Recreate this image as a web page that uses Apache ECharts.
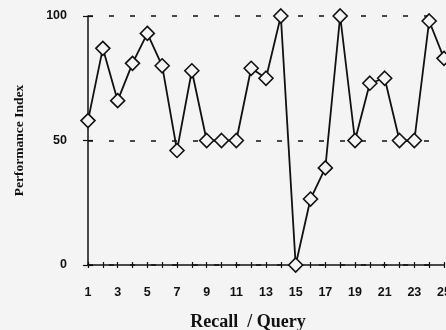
<!DOCTYPE html>
<html><head><meta charset="utf-8">
<script src="https://cdn.jsdelivr.net/npm/echarts@6/dist/echarts.min.js"></script>
<style>html,body{margin:0;padding:0;background:#f4f4f4}#c{width:446px;height:330px}</style>
</head><body><div id="c"></div>
<script>
const queries = [1,2,3,4,5,6,7,8,9,10,11,12,13,14,15,16,17,18,19,20,21,22,23,24,25];
const performance = [58,87,66,81,93,80,46,78,50,50,50,79,75,100,0,26.5,39,100,50,73,75,50,50,98,83];
const yTicks = [0,50,100];
const xLabel = 'Recall  / Query';
const yLabel = 'Performance Index';

const data = queries.map((q,i)=>[q, performance[i]]);
const chart = echarts.init(document.getElementById('c'), null, {renderer:'canvas'});
const tickFont = {fontFamily:'Liberation Sans, Arial', fontWeight:'bold', fontSize:12.5, color:'#111'};
chart.setOption({
  backgroundColor:'#f4f4f4',
  animation:false,
  grid:{left:88, top:16, right:2, bottom:65, outerBoundsMode:'none', containLabel:false},
  xAxis:[{
    type:'value', min:1, max:25, interval:1,
    axisLine:{lineStyle:{color:'#111', width:1.5}},
    axisTick:{show:true, length:3, lineStyle:{color:'#111', width:1.2}},
    axisLabel:Object.assign({margin:21, formatter:v=> (v%2===1 ? String(v) : '')}, tickFont),
    splitLine:{show:false},
    name:xLabel, nameLocation:'middle', nameGap:48,
    nameTextStyle:{fontFamily:'Liberation Serif, Times New Roman', fontWeight:'bold', fontSize:18, color:'#111', padding:[0,36,0,0]}
  },{
    type:'value', min:1, max:25, interval:1, position:'bottom',
    axisLine:{show:false},
    axisTick:{show:true, inside:true, length:3, lineStyle:{color:'#111', width:1.2}},
    axisLabel:{show:false}, splitLine:{show:false}
  }],
  yAxis:[{
    type:'value', min:0, max:100, interval:50,
    axisLine:{show:true, lineStyle:{color:'#111', width:1.5}},
    axisTick:{show:true, length:5, lineStyle:{color:'#111', width:1.2}},
    axisLabel:Object.assign({margin:21}, tickFont),
    splitLine:{show:true, lineStyle:{color:'#111', width:1.5, type:[5,16]}},
    name:yLabel, nameLocation:'middle', nameGap:61,
    nameTextStyle:{fontFamily:'Liberation Serif, Times New Roman', fontWeight:'bold', fontSize:13.5, color:'#111'}
  },{
    type:'value', min:0, max:100, interval:50, position:'left',
    axisLine:{show:false},
    axisTick:{show:true, inside:true, length:5, lineStyle:{color:'#111', width:1.2}},
    axisLabel:{show:false}, splitLine:{show:false}
  }],
  series:[{
    type:'line', data:data, xAxisIndex:0, yAxisIndex:0,
    symbol:'diamond', symbolSize:[14,14], showAllSymbol:true,
    lineStyle:{color:'#111', width:1.8},
    itemStyle:{color:'#f4f4f4', borderColor:'#111', borderWidth:1.6},
    clip:false, z:5
  }]
});
</script></body></html>
